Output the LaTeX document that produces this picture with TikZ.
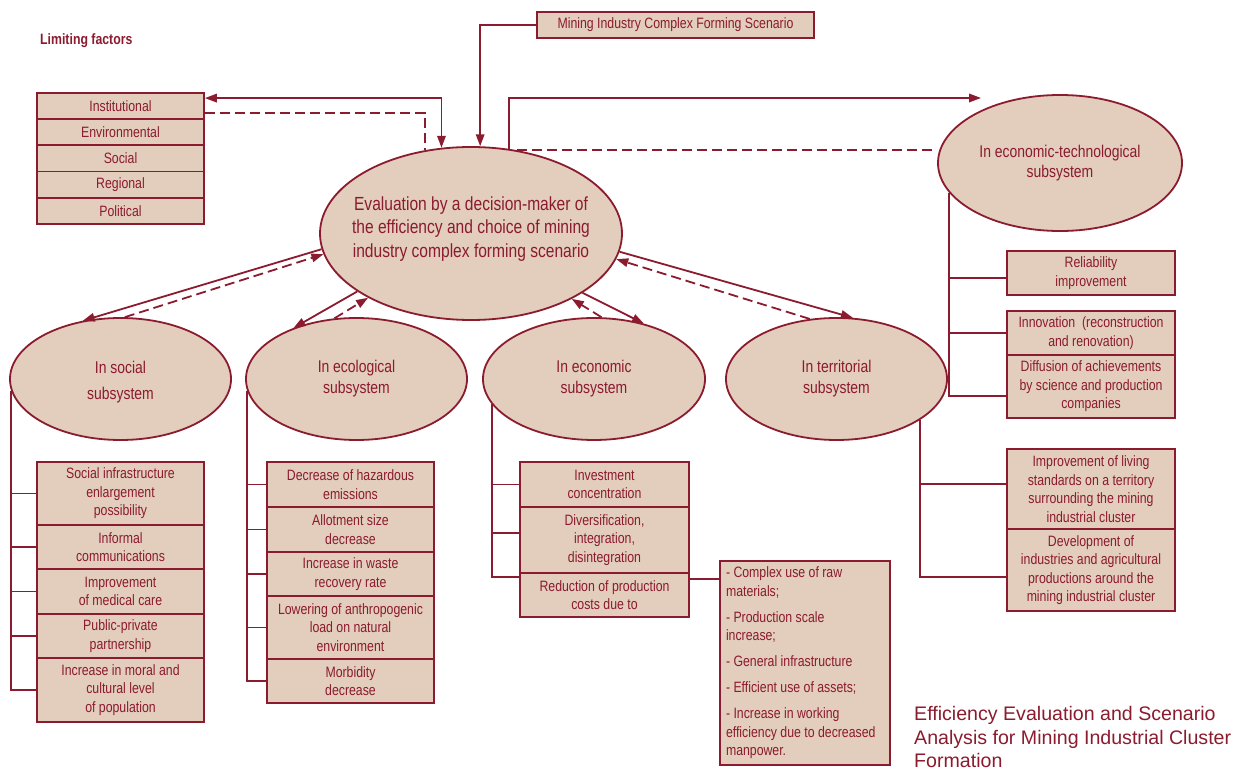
\documentclass[tikz,border=0pt]{standalone}
\usepackage{fontspec}
\setmainfont[FakeStretch=0.82]{Liberation Sans}
\newfontfamily\titlefont{Liberation Sans}
\usetikzlibrary{shapes.geometric,arrows.meta}
\definecolor{dred}{RGB}{139,27,46}
\definecolor{tanfill}{RGB}{227,205,188}
\begin{document}
\begin{tikzpicture}[x=1pt,y=-1pt,
  box/.style={rectangle, draw=dred, fill=tanfill, line width=1.8pt, text=dred,
    font=\fontsize{15}{18.5}\selectfont, align=center, inner sep=2pt},
  ell/.style={ellipse, draw=dred, fill=tanfill, line width=1.8pt, inner sep=0pt,
    text=dred, align=center},
  conn/.style={draw=dred, line width=1.8pt},
  dsh/.style={conn, dash pattern=on 10pt off 5pt},
  arrowend/.style={-{Triangle[length=12pt,width=8.5pt]}},
  arrowboth/.style={{Triangle[length=12pt,width=8.5pt]}-{Triangle[length=12pt,width=8.5pt]}}
]
\useasboundingbox (0,0) rectangle (1243,770);

% titles
\node[anchor=west, inner sep=0pt, text=dred, font=\bfseries\fontsize{15}{18}\selectfont] (limtitle) at (40,41) {Limiting factors};
\node[anchor=west, inner sep=0pt, text=dred, align=flush left, font=\titlefont\fontsize{19.6}{23.5}\selectfont] (title) at (914,737)
  {Efficiency Evaluation and Scenario\\Analysis for Mining Industrial Cluster\\Formation};

% top box
\node[box, minimum width=277, minimum height=26] (mics) at (675.5,25) {Mining Industry Complex Forming Scenario};

% limiting factor boxes
\node[box, minimum width=167, minimum height=26.2] (lf1) at (120.5,106.1) {Institutional};
\node[box, minimum width=167, minimum height=26.2] (lf2) at (120.5,132.3) {Environmental};
\node[box, minimum width=167, minimum height=26.2] (lf3) at (120.5,158.5) {Social};
\node[box, minimum width=167, minimum height=26.2] (lf4) at (120.5,184.7) {Regional};
\node[box, minimum width=167, minimum height=26.2] (lf5) at (120.5,210.9) {Political};

% ellipses
\node[ell, minimum width=302, minimum height=173, font=\fontsize{19}{23.5}\selectfont] (central) at (471,233.5)
  {\makebox[0pt]{\raisebox{0pt}[\height][\dimexpr\depth+9pt\relax]{\begin{tabular}{@{}c@{}}Evaluation by a decision-maker of\\the efficiency and choice of mining\\industry complex forming scenario\end{tabular}}}};
\node[ell, minimum width=244, minimum height=136, font=\fontsize{17}{20}\selectfont] (econtech) at (1060,163) {In economic-technological\\subsystem};
\node[ell, minimum width=221, minimum height=122, font=\fontsize{17}{21}\selectfont] (social) at (120.5,379)
  {\makebox[0pt]{\raisebox{0pt}[\height][\dimexpr\depth-6pt\relax]{\begin{tabular}{@{}c@{}}In social\\[5pt]subsystem\end{tabular}}}};
\node[ell, minimum width=221, minimum height=122, font=\fontsize{17}{21}\selectfont] (eco) at (356.5,379) {In ecological\\subsystem};
\node[ell, minimum width=222, minimum height=122, font=\fontsize{17}{21}\selectfont] (econ) at (594,379) {In economic\\subsystem};
\node[ell, minimum width=221, minimum height=122, font=\fontsize{17}{21}\selectfont] (terr) at (836.5,379) {In territorial\\subsystem};

% social boxes
\node[box, minimum width=167, minimum height=63] (s1) at (120.5,493.5) {Social infrastructure\\enlargement\\possibility};
\node[box, minimum width=167, minimum height=44] (s2) at (120.5,547) {Informal\\communications};
\node[box, minimum width=167, minimum height=45] (s3) at (120.5,591.5) {Improvement\\of medical care};
\node[box, minimum width=167, minimum height=44] (s4) at (120.5,636) {Public-private\\partnership};
\node[box, minimum width=167, minimum height=64] (s5) at (120.5,690) {Increase in moral and\\cultural level\\of population};

% ecological boxes
\node[box, minimum width=167, minimum height=45] (e1) at (350.5,484.5) {Decrease of hazardous\\emissions};
\node[box, minimum width=167, minimum height=45] (e2) at (350.5,529.5) {Allotment size\\decrease};
\node[box, minimum width=167, minimum height=44] (e3) at (350.5,574) {Increase in waste\\recovery rate};
\node[box, minimum width=167, minimum height=63] (e4) at (350.5,627.5) {Lowering of anthropogenic\\load on natural\\environment};
\node[box, minimum width=167, minimum height=44] (e5) at (350.5,681) {Morbidity\\decrease};

% economic boxes
\node[box, minimum width=169, minimum height=45] (n1) at (604.5,484.5) {Investment\\concentration};
\node[box, minimum width=169, minimum height=66] (n2) at (604.5,540) {Diversification,\\integration,\\disintegration};
\node[box, minimum width=169, minimum height=44] (n3) at (604.5,595) {Reduction of production\\costs due to};
\node[box, minimum width=170, minimum height=204, text width=158, align=flush left] (detail) at (805,663)
  {- Complex use of raw\\materials;\\[7.5pt]- Production scale\\increase;\\[7.5pt]- General infrastructure\\[7.5pt]- Efficient use of assets;\\[7.5pt]- Increase in working\\efficiency due to decreased\\manpower.};

% economic-technological boxes
\node[box, minimum width=168, minimum height=44] (t1) at (1091,273) {Reliability\\improvement};
\node[box, minimum width=168, minimum height=44] (t2) at (1091,333) {Innovation\ \ (reconstruction\\and renovation)};
\node[box, minimum width=168, minimum height=63] (t3) at (1091,386.5) {Diffusion of achievements\\by science and production\\companies};

% territorial boxes
\node[box, minimum width=168, minimum height=80] (r1) at (1091,489) {Improvement of living\\standards on a territory\\surrounding the mining\\industrial cluster};
\node[box, minimum width=168, minimum height=82] (r2) at (1091,570) {Development of\\industries and agricultural\\productions around the\\mining industrial cluster};

\coordinate (etarr) at (981,98);

% top connectors
\draw[conn, arrowboth] ([yshift=8pt]lf1.east) -| (central.109);
\draw[dsh] ([yshift=-7pt]lf1.east) -| (central.119);
\draw[conn, arrowend] (mics.west) -| (central.84);
\draw[conn, arrowend] (central.66) |- (etarr);
\draw[dsh] (central.61) -- (central.61 -| econtech.west);

% central to subsystems
\draw[conn, arrowend] (central.186) -- (social.123);
\draw[dsh, arrowend] (social.86) -- (central.188);
\draw[conn, arrowend] (central.207) -- (eco.141);
\draw[dsh, arrowend] (eco.110) -- (central.212);
\draw[conn, arrowend] (central.332) -- (econ.48);
\draw[dsh, arrowend] (econ.83) -- (central.327);
\draw[conn, arrowend] (central.353) -- (terr.75);
\draw[dsh, arrowend] (terr.114) -- (central.350);

% social bracket
\draw[conn] (social.186) |- (s5.west);
\foreach \b in {s1,s2,s3,s4} \draw[conn] (\b.west) -- (\b.west -| social.186);
% ecological bracket
\draw[conn] (eco.186) |- (e5.west);
\foreach \b in {e1,e2,e3,e4} \draw[conn] (\b.west) -- (\b.west -| eco.186);
% economic bracket
\draw[conn] (econ.194) |- ([yshift=18pt]n3.west);
\draw[conn] (n1.west) -- (n1.west -| econ.194);
\draw[conn] ([yshift=7pt]n2.west) -- ([yshift=7pt]n2.west -| econ.194);
\draw[conn] ([yshift=16pt]n3.east) -- ([yshift=16pt]n3.east -| detail.west);
% economic-technological bracket
\draw[conn] (econtech.195.6) |- ([yshift=-9.5pt]t3.west);
\draw[conn] ([yshift=-5pt]t1.west) -- ([yshift=-5pt]t1.west -| econtech.195.6);
\draw[conn] (t2.west) -- (t2.west -| econtech.195.6);
% territorial bracket
\draw[conn] (terr.334) |- ([yshift=-7pt]r2.west);
\draw[conn] ([yshift=5pt]r1.west) -- ([yshift=5pt]r1.west -| terr.334);
\end{tikzpicture}
\end{document}
